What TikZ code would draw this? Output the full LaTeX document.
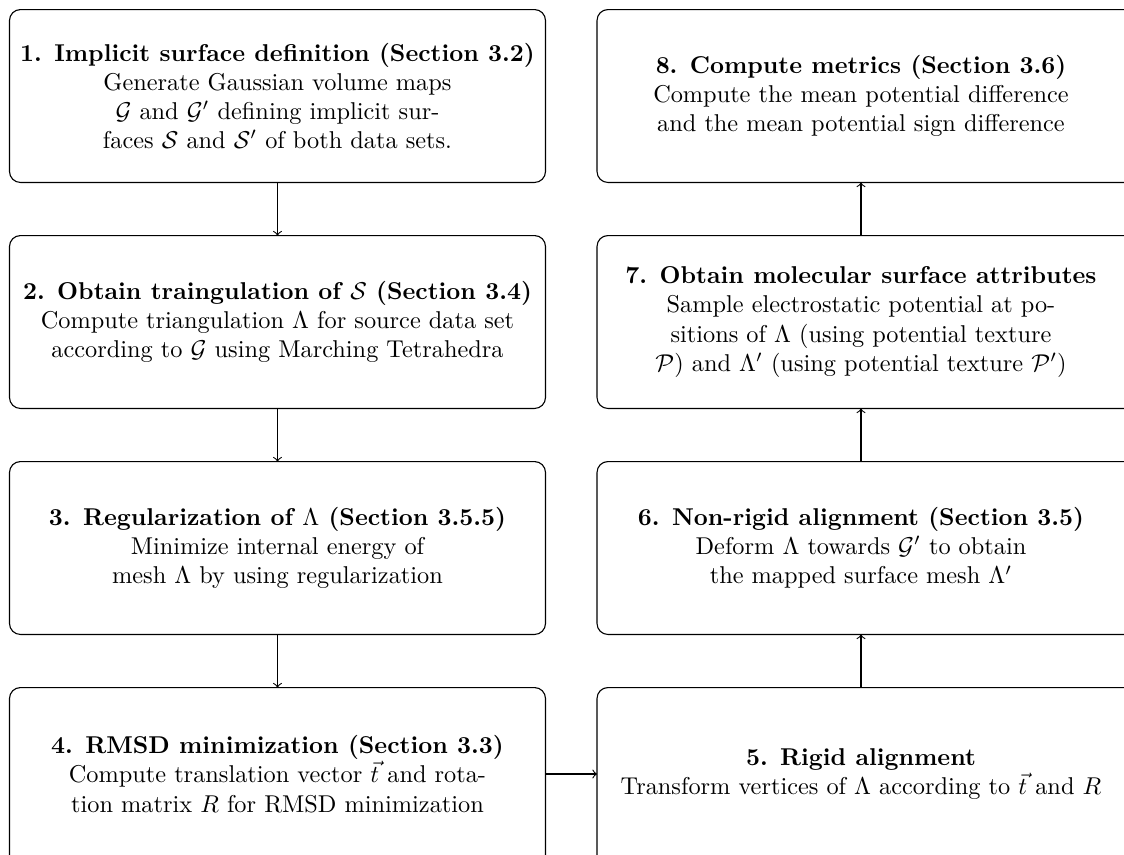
\documentclass[tikz,border=0pt]{standalone}
\usepackage{amsmath}

\tikzset{
  stepbox/.style={align=center, minimum height=70.7pt, inner sep=0pt, font=\normalsize},
  leftbox/.style={stepbox, minimum width=220pt},
  rightbox/.style={stepbox, minimum width=216.7pt},
  frame/.style={draw, rounded corners=4.5pt, line width=0.45pt},
  flow/.style={->, line width=0.45pt},
}

\begin{document}
\begin{tikzpicture}[x=0.4112pt, y=-0.4112pt]
  \useasboundingbox (0,0) rectangle (1124,855);
  \clip (0,0) rectangle (1124,855);

  % left column: steps 1--4, top to bottom
  \node[leftbox] (s1) at (277.5,96) {\textbf{1. Implicit surface definition (Section 3.2)}\\
    Generate Gaussian volume maps\\
    $\mathcal{G}$ and $\mathcal{G}'$ defining implicit sur-\\
    faces $\mathcal{S}$ and $\mathcal{S}'$ of both data sets.};
  \node[leftbox] (s2) at (277.5,322) {\textbf{2. Obtain traingulation of $\mathcal{S}$ (Section 3.4)}\\
    Compute triangulation $\Lambda$ for source data set\\
    according to $\mathcal{G}$ using Marching Tetrahedra};
  \node[leftbox] (s3) at (277.5,548) {\textbf{3. Regularization of $\Lambda$ (Section 3.5.5)}\\
    Minimize internal energy of\\
    mesh $\Lambda$ by using regularization};
  \node[leftbox] (s4) at (277.5,774) {\textbf{4. RMSD minimization (Section 3.3)}\\
    Compute translation vector $\vec{t}$ and rota-\\
    tion matrix $R$ for RMSD minimization};

  % right column: steps 5--8, bottom to top
  \node[rightbox] (s5) at (861,774) {\textbf{5. Rigid alignment}\\
    Transform vertices of $\Lambda$ according to $\vec{t}$ and $R$};
  \node[rightbox] (s6) at (861,548) {\textbf{6. Non-rigid alignment (Section 3.5)}\\
    Deform $\Lambda$ towards $\mathcal{G}'$ to obtain\\
    the mapped surface mesh $\Lambda'$};
  \node[rightbox] (s7) at (861,322) {\textbf{7. Obtain molecular surface attributes}\\
    Sample electrostatic potential at po-\\
    sitions of $\Lambda$ (using potential texture\\
    $\mathcal{P}$) and $\Lambda'$ (using potential texture $\mathcal{P}'$)};
  \node[rightbox] (s8) at (861,96) {\textbf{8. Compute metrics (Section 3.6)}\\
    Compute the mean potential difference\\
    and the mean potential sign difference};

  % frames; the right column and the bottom row run past the page edge
  \draw[frame] (s1.north west) rectangle (s1.south east);
  \draw[frame] (s2.north west) rectangle (s2.south east);
  \draw[frame] (s3.north west) rectangle (s3.south east);
  \draw[frame] (s4.north west) rectangle ([yshift=-12pt]s4.south east);
  \draw[frame] (s5.north west) rectangle ([xshift=12pt,yshift=-12pt]s5.south east);
  \draw[frame] (s6.north west) rectangle ([xshift=12pt]s6.south east);
  \draw[frame] (s7.north west) rectangle ([xshift=12pt]s7.south east);
  \draw[frame] (s8.north west) rectangle ([xshift=12pt]s8.south east);

  % connectors
  \draw[flow] (s1) -- (s2);
  \draw[flow] (s2) -- (s3);
  \draw[flow] (s3) -- (s4);
  \draw[flow] (s4) -- (s5);
  \draw[flow] (s5) -- (s6);
  \draw[flow] (s6) -- (s7);
  \draw[flow] (s7) -- (s8);
\end{tikzpicture}
\end{document}
